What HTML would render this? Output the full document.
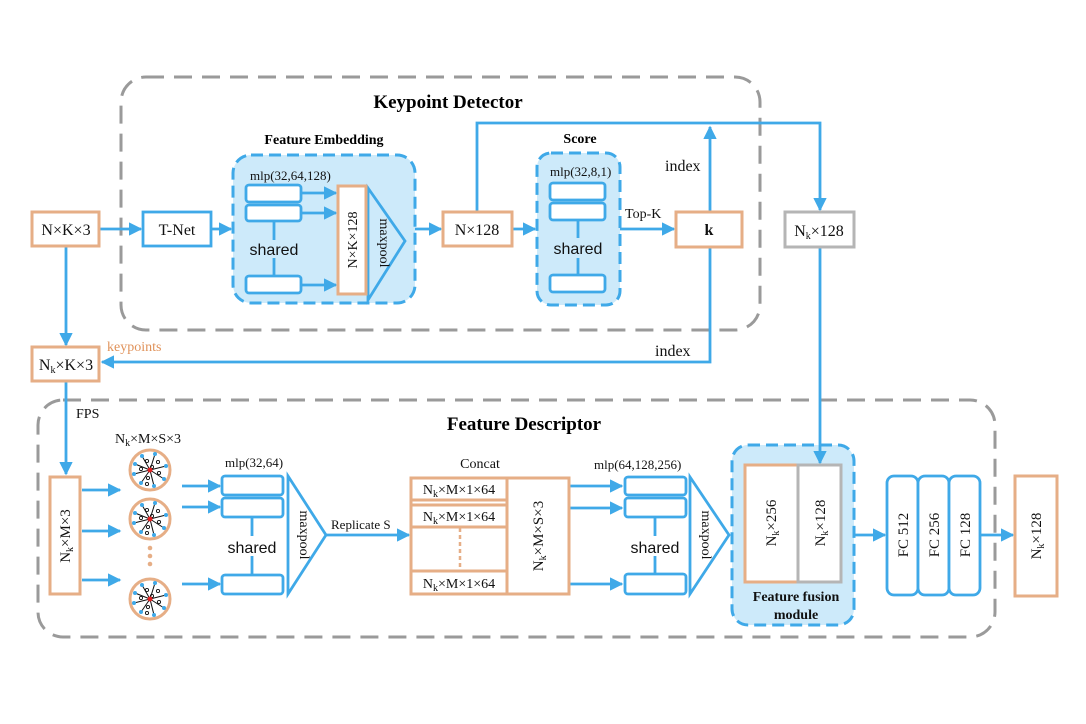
<!DOCTYPE html>
<html><head><meta charset="utf-8"><style>
html,body{margin:0;padding:0;background:#fff;}
svg{display:block;font-family:"Liberation Serif",serif;}
</style></head><body>
<svg width="1086" height="724" viewBox="0 0 1086 724" xmlns="http://www.w3.org/2000/svg">
<defs>
<marker id="a" viewBox="0 0 10 10" refX="9" refY="5" markerWidth="4.8" markerHeight="4.8" orient="auto"><path d="M0,0 L10,5 L0,10 z" fill="#3fa9e8"/></marker>
<g id="circ">
<circle r="20" fill="#fff" stroke="#e6ae86" stroke-width="3"/>
<g stroke="#111" stroke-width="1">
<line x1="0" y1="0" x2="-15" y2="-6"/><line x1="0" y1="0" x2="-8" y2="-14"/><line x1="0" y1="0" x2="5" y2="-16"/><line x1="0" y1="0" x2="16" y2="-4"/><line x1="0" y1="0" x2="14" y2="9"/><line x1="0" y1="0" x2="4" y2="16"/><line x1="0" y1="0" x2="-9" y2="13"/><line x1="0" y1="0" x2="-16" y2="4"/></g>
<g fill="#3fa9e8"><circle cx="-15" cy="-6" r="2"/><circle cx="-8" cy="-14" r="2"/><circle cx="5" cy="-16" r="2"/><circle cx="16" cy="-4" r="2"/><circle cx="14" cy="9" r="2"/><circle cx="4" cy="16" r="2"/><circle cx="-9" cy="13" r="2"/><circle cx="-16" cy="4" r="2"/></g>
<g fill="none" stroke="#111" stroke-width="0.9"><circle cx="-3" cy="-9" r="1.6"/><circle cx="8" cy="-8" r="1.6"/><circle cx="-9" cy="-1" r="1.6"/><circle cx="9" cy="3" r="1.6"/><circle cx="-2" cy="8" r="1.6"/><circle cx="-3" cy="14" r="1.6"/><circle cx="2" cy="-3" r="1.6"/></g>
<circle r="2.5" fill="#e02020"/>
</g>
</defs>

<rect x="121" y="77" width="639" height="253" rx="25" fill="none" stroke="#9a9a9a" stroke-width="3" stroke-dasharray="18,10"/>
<rect x="38" y="400" width="957" height="237" rx="25" fill="none" stroke="#9a9a9a" stroke-width="3" stroke-dasharray="18,10"/>
<text x="448" y="108" font-size="19" font-weight="bold" text-anchor="middle">Keypoint Detector</text>
<text x="524" y="430" font-size="19" font-weight="bold" text-anchor="middle">Feature Descriptor</text>

<rect x="233" y="155" width="182" height="148" rx="18" fill="#cdeafa" stroke="#3fa9e8" stroke-width="3" stroke-dasharray="12,6"/>
<rect x="537" y="153" width="83" height="152" rx="14" fill="#cdeafa" stroke="#3fa9e8" stroke-width="3" stroke-dasharray="12,6"/>
<rect x="732" y="445" width="122" height="180" rx="16" fill="#cdeafa" stroke="#3fa9e8" stroke-width="3" stroke-dasharray="12,6"/>
<text x="324" y="144" font-size="14" font-weight="bold" text-anchor="middle">Feature Embedding</text>
<text x="580" y="143" font-size="14" font-weight="bold" text-anchor="middle">Score</text>

<g fill="none" stroke="#3fa9e8" stroke-width="2.8">
<line x1="99" y1="229" x2="141" y2="229" marker-end="url(#a)"/>
<line x1="211" y1="229" x2="231" y2="229" marker-end="url(#a)"/>
<line x1="301" y1="193" x2="336" y2="193" marker-end="url(#a)"/>
<line x1="301" y1="213" x2="336" y2="213" marker-end="url(#a)"/>
<line x1="301" y1="285" x2="336" y2="285" marker-end="url(#a)"/>
<line x1="415" y1="229" x2="441" y2="229" marker-end="url(#a)"/>
<line x1="512" y1="229" x2="535" y2="229" marker-end="url(#a)"/>
<line x1="620" y1="229" x2="674" y2="229" marker-end="url(#a)"/>
<line x1="710" y1="212" x2="710" y2="127" marker-end="url(#a)"/>
<polyline points="477,212 477,123 820,123 820,210" marker-end="url(#a)"/>
<polyline points="710,247 710,362 102,362" marker-end="url(#a)"/>
<line x1="66" y1="246" x2="66" y2="345" marker-end="url(#a)"/>
<line x1="66" y1="381" x2="66" y2="474" marker-end="url(#a)"/>
<line x1="820" y1="247" x2="820" y2="463" marker-end="url(#a)"/>
<line x1="82" y1="490" x2="120" y2="490" marker-end="url(#a)"/>
<line x1="82" y1="531" x2="120" y2="531" marker-end="url(#a)"/>
<line x1="82" y1="580" x2="120" y2="580" marker-end="url(#a)"/>
<line x1="182" y1="486" x2="220" y2="486" marker-end="url(#a)"/>
<line x1="182" y1="507" x2="220" y2="507" marker-end="url(#a)"/>
<line x1="182" y1="584" x2="220" y2="584" marker-end="url(#a)"/>
<line x1="326" y1="535" x2="409" y2="535" marker-end="url(#a)"/>
<line x1="570" y1="486" x2="622" y2="486" marker-end="url(#a)"/>
<line x1="570" y1="508" x2="622" y2="508" marker-end="url(#a)"/>
<line x1="570" y1="584" x2="622" y2="584" marker-end="url(#a)"/>
<line x1="854" y1="535" x2="885" y2="535" marker-end="url(#a)"/>
<line x1="980" y1="535" x2="1013" y2="535" marker-end="url(#a)"/>
<line x1="274" y1="221" x2="274" y2="240"/><line x1="274" y1="258" x2="274" y2="275"/>
<line x1="578" y1="220" x2="578" y2="238"/><line x1="578" y1="258" x2="578" y2="275"/>
<line x1="252" y1="517" x2="252" y2="536"/><line x1="252" y1="556" x2="252" y2="575"/>
<line x1="655" y1="517" x2="655" y2="536"/><line x1="655" y1="556" x2="655" y2="574"/>
</g>

<g fill="#fff" stroke="#3fa9e8" stroke-width="2.8">
<rect x="246" y="185" width="55" height="17" rx="3"/><rect x="246" y="205" width="55" height="16" rx="3"/><rect x="246" y="276" width="55" height="17" rx="3"/>
<rect x="550" y="183" width="55" height="17" rx="3"/><rect x="550" y="203" width="55" height="17" rx="3"/><rect x="550" y="275" width="55" height="17" rx="3"/>
<rect x="222" y="476" width="61" height="19" rx="3"/><rect x="222" y="498" width="61" height="19" rx="3"/><rect x="222" y="575" width="61" height="19" rx="3"/>
<rect x="625" y="477" width="61" height="18" rx="3"/><rect x="625" y="498" width="61" height="19" rx="3"/><rect x="625" y="574" width="61" height="20" rx="3"/>
<rect x="143" y="212" width="68" height="34"/>
<rect x="887" y="476" width="31" height="119" rx="7"/><rect x="918" y="476" width="31" height="119" rx="7"/><rect x="949" y="476" width="31" height="119" rx="7"/>
</g>
<g fill="none" stroke="#3fa9e8" stroke-width="2.8">
<polygon points="368,188 405,241 368,300"/>
<polygon points="288,476 326,535 288,594"/>
<polygon points="690,477 729,535 690,594"/>
</g>

<g fill="#fff" stroke="#e6ae86" stroke-width="3">
<rect x="32" y="212" width="67" height="34"/>
<rect x="338" y="186" width="28" height="108"/>
<rect x="443" y="212" width="69" height="34"/>
<rect x="676" y="212" width="66" height="35"/>
<rect x="32" y="347" width="67" height="34"/>
<rect x="50" y="477" width="30" height="117"/>
<rect x="411" y="478" width="158" height="116"/>
<line x1="507" y1="478" x2="507" y2="594"/>
<rect x="411" y="478" width="96" height="22"/>
<rect x="411" y="505" width="96" height="22"/>
<rect x="411" y="571" width="96" height="23"/>
<rect x="745" y="465" width="53" height="117"/>
<rect x="1015" y="476" width="42" height="120"/>
</g>
<line x1="460" y1="528" x2="460" y2="570" stroke="#e6ae86" stroke-width="2.5" stroke-dasharray="4,3"/>
<g fill="#fff" stroke="#b5b5b5" stroke-width="3">
<rect x="785" y="212" width="69" height="35"/>
<rect x="798" y="465" width="43" height="117"/>
</g>

<use href="#circ" x="150" y="470"/>
<use href="#circ" x="150" y="519"/>
<use href="#circ" x="150" y="599"/>
<g fill="#e6ae86"><circle cx="150" cy="548" r="2.3"/><circle cx="150" cy="556" r="2.3"/><circle cx="150" cy="564" r="2.3"/></g>

<g font-size="16" fill="#111">
<text x="66" y="235" text-anchor="middle">N×K×3</text>
<text x="177" y="235" text-anchor="middle">T-Net</text>
<text x="477" y="235" text-anchor="middle">N×128</text>
<text x="709" y="235" text-anchor="middle" font-weight="bold">k</text>
<text x="819" y="236" text-anchor="middle">N<tspan font-size="10" dy="3">k</tspan><tspan dy="-3">×128</tspan></text>
<text x="66" y="370" text-anchor="middle">N<tspan font-size="10" dy="3">k</tspan><tspan dy="-3">×K×3</tspan></text>
<text x="665" y="171" font-size="16">index</text>
<text x="655" y="356" font-size="16">index</text>
<text x="625" y="218" font-size="14">Top-K</text>
<text x="107" y="351" font-size="14" fill="#e0925a">keypoints</text>
<text x="76" y="418" font-size="14">FPS</text>
<text x="250" y="180" font-size="13">mlp(32,64,128)</text>
<text x="550" y="176" font-size="13">mlp(32,8,1)</text>
<text x="225" y="467" font-size="13">mlp(32,64)</text>
<text x="594" y="469" font-size="13">mlp(64,128,256)</text>
<text x="480" y="468" font-size="14" text-anchor="middle">Concat</text>
<text x="331" y="529" font-size="13">Replicate  S</text>
<text x="115" y="443" font-size="14">N<tspan font-size="10" dy="3">k</tspan><tspan dy="-3">×M×S×3</tspan></text>
<g font-family="Liberation Sans,sans-serif" font-size="16">
<text x="274" y="255" text-anchor="middle">shared</text>
<text x="578" y="254" text-anchor="middle">shared</text>
<text x="252" y="553" text-anchor="middle">shared</text>
<text x="655" y="553" text-anchor="middle">shared</text>
</g>
<text x="459" y="494" text-anchor="middle" font-size="14">N<tspan font-size="10" dy="3">k</tspan><tspan dy="-3">×M×1×64</tspan></text>
<text x="459" y="521" text-anchor="middle" font-size="14">N<tspan font-size="10" dy="3">k</tspan><tspan dy="-3">×M×1×64</tspan></text>
<text x="459" y="588" text-anchor="middle" font-size="14">N<tspan font-size="10" dy="3">k</tspan><tspan dy="-3">×M×1×64</tspan></text>
<text transform="translate(357,240) rotate(-90)" text-anchor="middle" font-size="14">N×K×128</text>
<text transform="translate(380,243) rotate(90)" text-anchor="middle" font-size="14">maxpool</text>
<text transform="translate(300,535) rotate(90)" text-anchor="middle" font-size="14">maxpool</text>
<text transform="translate(702,535) rotate(90)" text-anchor="middle" font-size="14">maxpool</text>
<text transform="translate(70,536) rotate(-90)" text-anchor="middle" font-size="15">N<tspan font-size="10" dy="3">k</tspan><tspan dy="-3">×M×3</tspan></text>
<text transform="translate(543,536) rotate(-90)" text-anchor="middle" font-size="15">N<tspan font-size="10" dy="3">k</tspan><tspan dy="-3">×M×S×3</tspan></text>
<text transform="translate(776,523) rotate(-90)" text-anchor="middle" font-size="15">N<tspan font-size="10" dy="3">k</tspan><tspan dy="-3">×256</tspan></text>
<text transform="translate(825,523) rotate(-90)" text-anchor="middle" font-size="15">N<tspan font-size="10" dy="3">k</tspan><tspan dy="-3">×128</tspan></text>
<text transform="translate(1041,536) rotate(-90)" text-anchor="middle" font-size="15">N<tspan font-size="10" dy="3">k</tspan><tspan dy="-3">×128</tspan></text>
<text transform="translate(908,535) rotate(-90)" text-anchor="middle" font-size="15">FC 512</text>
<text transform="translate(939,535) rotate(-90)" text-anchor="middle" font-size="15">FC 256</text>
<text transform="translate(970,535) rotate(-90)" text-anchor="middle" font-size="15">FC 128</text>
<text x="796" y="601" text-anchor="middle" font-size="14" font-weight="bold">Feature fusion</text>
<text x="796" y="619" text-anchor="middle" font-size="14" font-weight="bold">module</text>
</g>
</svg>
</body></html>
